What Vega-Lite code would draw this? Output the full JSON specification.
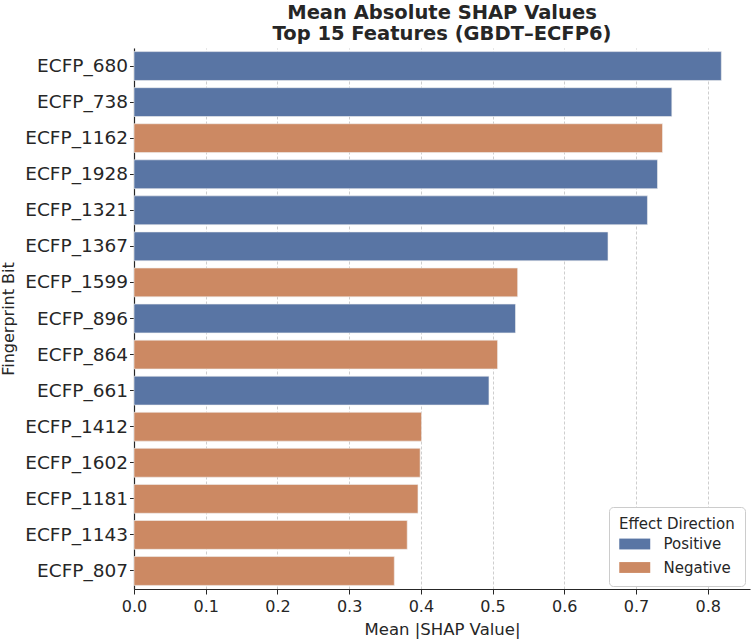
{
  "$schema": "https://vega.github.io/schema/vega-lite/v6.json",
  "width": 616,
  "height": 541,
  "autosize": {"type": "none"},
  "padding": {"left": 134, "top": 48, "right": 1, "bottom": 53},
  "background": "white",
  "config": {
    "font": "DejaVu Sans",
    "view": {"stroke": null},
    "axis": {"labelColor": "#262626", "titleColor": "#262626", "domainColor": "#262626", "tickColor": "#262626"}
  },
  "title": {
    "text": ["Mean Absolute SHAP Values", "Top 15 Features (GBDT–ECFP6)"],
    "fontSize": 19.5,
    "fontWeight": "bold",
    "color": "#262626",
    "anchor": "middle",
    "lineHeight": 21,
    "offset": 4
  },
  "data": {
    "values": [
      {"feature": "ECFP_680", "value": 0.819, "direction": "Positive"},
      {"feature": "ECFP_738", "value": 0.750, "direction": "Positive"},
      {"feature": "ECFP_1162", "value": 0.737, "direction": "Negative"},
      {"feature": "ECFP_1928", "value": 0.730, "direction": "Positive"},
      {"feature": "ECFP_1321", "value": 0.716, "direction": "Positive"},
      {"feature": "ECFP_1367", "value": 0.661, "direction": "Positive"},
      {"feature": "ECFP_1599", "value": 0.535, "direction": "Negative"},
      {"feature": "ECFP_896", "value": 0.532, "direction": "Positive"},
      {"feature": "ECFP_864", "value": 0.507, "direction": "Negative"},
      {"feature": "ECFP_661", "value": 0.495, "direction": "Positive"},
      {"feature": "ECFP_1412", "value": 0.401, "direction": "Negative"},
      {"feature": "ECFP_1602", "value": 0.399, "direction": "Negative"},
      {"feature": "ECFP_1181", "value": 0.396, "direction": "Negative"},
      {"feature": "ECFP_1143", "value": 0.381, "direction": "Negative"},
      {"feature": "ECFP_807", "value": 0.363, "direction": "Negative"}
    ]
  },
  "mark": {"type": "bar", "stroke": "#f0f0f0", "strokeWidth": 0.6},
  "encoding": {
    "y": {
      "field": "feature",
      "type": "nominal",
      "sort": null,
      "scale": {"paddingInner": 0.2, "paddingOuter": 0.1},
      "axis": {
        "title": "Fingerprint Bit",
        "titleFontSize": 16,
        "titleFontWeight": "normal",
        "titlePadding": 8,
        "labelFontSize": 18.5,
        "labelPadding": 2,
        "tickSize": 4.5,
        "domainWidth": 1.2,
        "grid": false
      }
    },
    "x": {
      "field": "value",
      "type": "quantitative",
      "scale": {"domain": [0, 0.859], "nice": false, "zero": true},
      "axis": {
        "title": "Mean |SHAP Value|",
        "titleFontSize": 16.5,
        "titleFontWeight": "normal",
        "titlePadding": 7,
        "values": [0, 0.1, 0.2, 0.3, 0.4, 0.5, 0.6, 0.7, 0.8],
        "format": ".1f",
        "labelFontSize": 16,
        "labelPadding": 4,
        "labelFlush": false,
        "tickSize": 5,
        "domainWidth": 1.2,
        "grid": true,
        "gridColor": "#c8c8c8",
        "gridDash": [3, 2],
        "gridWidth": 0.9
      }
    },
    "color": {
      "field": "direction",
      "type": "nominal",
      "scale": {"domain": ["Positive", "Negative"], "range": ["#5975a4", "#cc8963"]},
      "legend": {
        "title": "Effect Direction",
        "orient": "none",
        "legendX": 475,
        "legendY": 459,
        "padding": 10,
        "titleFontSize": 15,
        "titleFontWeight": "normal",
        "titleColor": "#262626",
        "titlePadding": 4,
        "labelFontSize": 15,
        "labelColor": "#262626",
        "labelOffset": 28.5,
        "symbolType": "M-1,-0.7L3,-0.7L3,0.7L-1,0.7Z",
        "symbolSize": 240,
        "symbolStrokeWidth": 0,
        "symbolOpacity": 1,
        "rowPadding": 7.5,
        "strokeColor": "#cccccc",
        "fillColor": "white",
        "cornerRadius": 4
      }
    }
  }
}
